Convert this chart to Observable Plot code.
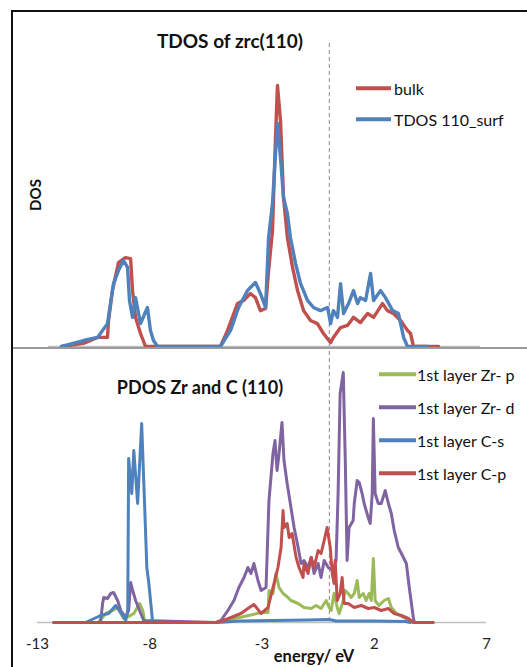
<!DOCTYPE html>
<html>
<head>
<meta charset="utf-8">
<script src="https://cdn.jsdelivr.net/npm/d3@7"></script>
<script src="https://cdn.jsdelivr.net/npm/@observablehq/plot@0.6"></script>
<style>
  body { margin: 0; background: #fff; }
  #wrap { position: relative; width: 527px; height: 667px; overflow: hidden; background: #fff; font-family: Lato, "Open Sans", sans-serif; color: #111; }
  .abs { position: absolute; }
  .ctr { transform: translate(-50%, -50%); white-space: nowrap; }
  .leg { position: absolute; white-space: nowrap; font-size: 16px; transform: translateY(-50%); }
  .legline { position: absolute; height: 3.5px; transform: translateY(-50%); }
</style>
</head>
<body>
<div id="wrap">
  <div id="topplot" class="abs" style="left:0;top:0"></div>
  <div id="botplot" class="abs" style="left:0;top:348px"></div>
</div>
<script>
// ---------- data (energy in eV, DOS in arbitrary units) ----------
const xTicks = [-13, -8, -3, 2, 7];

// Top panel: TDOS
const E_bulk = [-12.4,-11.38,-10.73,-10.27,-10.22,-10.04,-9.76,-9.44,-9.2,-9.11,-8.97,-8.74,-8.51,-5.04,-4.71,-4.25,-3.97,-3.65,-3.42,-3.19,-2.95,-2.81,-2.63,-2.49,-2.4,-2.26,-2.12,-1.94,-1.7,-1.47,-1.19,-0.87,-0.55,-0.27,0.06,0.19,0.52,0.84,1.12,1.44,1.77,2.05,2.46,2.69,2.97,3.3,3.62,3.76,3.9,5.06];
const V_bulk = [0,0.12,0.35,0.35,1.0,2.15,3.23,3.42,3.38,2.15,1.12,0.5,0,0,0.62,1.65,1.77,2.04,1.88,1.38,1.46,2.92,4.46,8.04,10.04,8.69,5.73,4.19,3.04,2.15,1.38,1.0,0.88,0.5,0.15,0.35,0.73,0.81,1.12,0.92,1.27,1.12,1.65,1.38,1.27,1.0,0.62,0.5,0,0];

const E_surf = [-12.4,-11.38,-10.73,-10.27,-9.99,-9.76,-9.53,-9.34,-9.25,-9.11,-8.97,-8.83,-8.74,-8.42,-8.28,-8.14,-7.95,-5.04,-4.57,-4.2,-3.79,-3.65,-3.42,-3.19,-2.95,-2.81,-2.63,-2.49,-2.4,-2.26,-2.12,-1.94,-1.8,-1.56,-1.33,-1.01,-0.73,-0.41,-0.08,0.06,0.19,0.38,0.52,0.66,0.89,1.12,1.31,1.44,1.68,1.91,2.05,2.37,2.6,2.93,3.2,3.44,3.62,4.55];
const V_surf = [0,0.23,0.35,0.88,2.42,2.92,3.31,3.04,1.77,1.12,1.88,1.27,0.88,1.5,0.62,0.23,0,0,0.62,1.5,2.15,2.27,2.46,2.04,1.5,4.19,5.5,7.42,8.58,7.27,5.73,5.12,4.19,3.19,2.42,1.77,1.5,1.38,1.5,0.88,1.38,1.12,2.42,1.27,1.65,2.15,1.65,1.88,1.77,2.81,1.77,2.15,1.88,1.38,1.27,0.35,0,0];

// Bottom panel: PDOS
const E_zrp = [-10.3,-9.96,-9.65,-9.43,-9.29,-9.16,-8.94,-8.71,-8.45,-8.31,-8.22,-5.05,-4.5,-4.0,-3.5,-3.04,-2.73,-2.69,-2.51,-2.38,-2.24,-2.06,-1.84,-1.71,-1.39,-1.13,-0.81,-0.59,-0.37,-0.14,-0.01,0.08,0.21,0.35,0.44,0.62,0.71,0.84,0.97,1.11,1.24,1.33,1.51,1.64,1.77,1.87,1.96,2.04,2.21,2.44,2.63,2.76,2.99,3.3,3.56,3.74,4.6];
const V_zrp = [0,0.36,0.48,0.6,0.36,0.16,0.24,0.36,0.76,0.48,0,0,0.12,0.2,0.3,0.4,0.4,1.28,1.16,1.96,1.4,1.16,1.0,0.88,0.76,0.6,0.56,0.68,0.56,0.88,0.6,0.48,1.16,0.6,0.36,0.88,1.28,1.16,1.0,1.16,1.68,1.0,1.16,0.88,1.16,0.88,2.56,0.88,0.68,0.88,0.96,0.6,0.36,0.2,0.08,0,0];

const E_zrd = [-10.19,-10.1,-10.05,-9.88,-9.74,-9.61,-9.43,-9.29,-9.07,-8.94,-8.85,-8.76,-8.63,-8.4,-8.27,-5.05,-4.83,-4.52,-4.25,-4.03,-3.8,-3.63,-3.49,-3.36,-3.18,-3.04,-2.82,-2.69,-2.51,-2.42,-2.33,-2.24,-2.11,-2.02,-1.88,-1.71,-1.57,-1.39,-1.26,-1.13,-0.95,-0.81,-0.68,-0.5,-0.37,-0.23,-0.05,0.17,0.3,0.39,0.48,0.62,0.71,0.79,0.88,1.06,1.11,1.24,1.33,1.46,1.55,1.73,1.82,1.91,1.96,2.04,2.18,2.31,2.49,2.63,2.76,2.89,3.07,3.21,3.43,3.56,3.74,3.79];
const V_zrd = [0.04,0.76,1.0,0.96,1.16,1.2,0.88,0.48,0.2,0.48,1.6,1.28,0.88,0.36,0.08,0,0.08,0.48,0.88,1.4,1.8,2.2,1.96,2.36,1.68,1.28,1.4,4.88,6.76,7.28,6.08,6.76,8.0,6.48,5.56,4.6,3.8,3.0,2.36,2.48,2.2,2.6,1.96,2.36,1.8,2.48,2.2,2.08,2.48,5.16,9.16,10.0,6.48,2.48,3.8,4.08,4.76,5.68,5.6,5.16,4.76,4.2,3.96,5.16,8.16,5.16,4.76,4.76,5.28,4.76,4.36,3.68,3.0,2.76,2.36,1.4,0.2,0];

const E_cs = [-10.86,-10.19,-9.83,-9.52,-9.29,-9.07,-8.98,-8.94,-8.8,-8.71,-8.54,-8.36,-8.22,-8.13,-8.04,-7.87,-5.0,-4.0,-2.5,-1.0,0,0.3,2.0,3.4,3.6];
const V_cs = [0,0.28,0.36,0.68,0.4,0.08,0.5,6.56,5.16,6.88,4.76,7.96,4.48,2.2,1.56,0,0,0.06,0.08,0.1,0.12,0.06,0.06,0.04,0];

const E_cp = [-12.29,-5.05,-4.83,-4.38,-3.94,-3.63,-3.36,-3.04,-2.73,-2.51,-2.29,-2.15,-2.06,-2.02,-1.88,-1.79,-1.66,-1.48,-1.35,-1.17,-1.13,-0.95,-0.81,-0.68,-0.5,-0.37,-0.23,-0.1,0.04,0.13,0.21,0.26,0.35,0.48,0.57,0.66,0.84,0.97,1.11,1.42,1.73,2.0,2.31,2.63,2.89,3.21,3.52,3.74,4.63];
const V_cp = [0,0,0.04,0.2,0.36,0.56,0.72,0.36,0.6,1.4,2.2,3.0,4.48,3.8,3.96,3.4,3.56,2.6,2.2,1.8,2.36,1.96,2.6,2.2,2.88,2.76,3.28,3.8,3.0,1.96,1.56,2.48,0.88,1.16,1.8,0.76,0.76,0.68,0.6,0.68,0.56,0.6,0.48,0.56,0.36,0.28,0.16,0,0];

const topNames = ["bulk", "TDOS 110_surf"];
const botNames = ["1st layer Zr- p", "1st layer Zr- d", "1st layer C-s", "1st layer C-p"];
const topColors = ["#C0504D", "#4F81BD"];
const botColors = ["#9BBB59", "#8064A2", "#4F81BD", "#C0504D"];

// ---------- build ----------
const pts = (E, V) => E.map((e, i) => ({e, v: V[i]}));
const topSeries = [pts(E_bulk, V_bulk), pts(E_surf, V_surf)];
const botSeries = [pts(E_zrp, V_zrp), pts(E_zrd, V_zrd), pts(E_cs, V_cs), pts(E_cp, V_cp)];

const topPlot = Plot.plot({
  width: 527, height: 347,
  marginLeft: 48, marginRight: 47, marginTop: 43, marginBottom: 1,
  x: {domain: [-13, 7], axis: null},
  y: {domain: [0, 11.654], axis: null},
  style: {background: "transparent", overflow: "visible"},
  marks: [
    Plot.ruleY([0], {stroke: "#bfbfbf", strokeWidth: 1.5}),
    Plot.ruleX([0], {stroke: "#8a8a8a", strokeWidth: 1, strokeDasharray: "4,3"}),
    ...topSeries.map((d, i) => Plot.line(d, {x: "e", y: "v", stroke: topColors[i], strokeWidth: 3.4, strokeLinejoin: "round"}))
  ]
});
document.getElementById("topplot").appendChild(topPlot);

const botPlot = Plot.plot({
  width: 527, height: 319,
  marginLeft: 37, marginRight: 41, marginTop: 3, marginBottom: 45,
  x: {domain: [-13, 7], ticks: xTicks, tickSize: 0, tickPadding: 16, tickFormat: d => String(d), label: null},
  y: {domain: [0, 10.84], axis: null},
  style: {background: "transparent", overflow: "visible", fontSize: "15px", fontFamily: "Lato, sans-serif", color: "#222"},
  marks: [
    Plot.ruleY([0], {stroke: "#bfbfbf", strokeWidth: 1.5}),
    Plot.ruleX([0], {stroke: "#8a8a8a", strokeWidth: 1, strokeDasharray: "4,3"}),
    ...botSeries.map((d, i) => Plot.line(d, {x: "e", y: "v", stroke: botColors[i], strokeWidth: 3, strokeLinejoin: "round"}))
  ]
});
document.getElementById("botplot").appendChild(botPlot);

// ---------- frame, titles, legends ----------
const wrap = document.getElementById("wrap");
function add(html) { wrap.insertAdjacentHTML("beforeend", html); }
add('<div class="abs" style="left:11px;top:10px;width:2px;height:657px;background:#111"></div>');
add('<div class="abs" style="left:11px;top:10px;width:516px;height:2px;background:#111"></div>');
add('<div class="abs" style="left:13px;top:347px;width:514px;height:2px;background:#9a9a9a"></div>');

add('<div class="abs ctr" style="left:230px;top:40px;font-weight:bold;font-size:19px">TDOS of zrc(110)</div>');
add('<div class="abs ctr" style="left:200px;top:387px;font-weight:bold;font-size:18px">PDOS Zr and C (110)</div>');
add('<div class="abs" style="left:35px;top:195px;font-weight:bold;font-size:15px;transform:translate(-50%,-50%) rotate(-90deg);white-space:nowrap">DOS</div>');
add('<div class="abs ctr" style="left:314px;top:656px;font-weight:bold;font-size:16.5px">energy/ eV</div>');

const topLegY = [88, 119];
topNames.forEach((n, i) => {
  add(`<div class="legline" style="left:356px;top:${topLegY[i]}px;width:35px;background:${topColors[i]}"></div>`);
  add(`<div class="leg" style="left:394px;top:${topLegY[i]}px">${n}</div>`);
});
const botLegY = [374, 407, 440, 473];
botNames.forEach((n, i) => {
  add(`<div class="legline" style="left:379px;top:${botLegY[i]}px;width:37px;background:${botColors[i]}"></div>`);
  add(`<div class="leg" style="left:417px;top:${botLegY[i]}px">${n}</div>`);
});
</script>
</body>
</html>
